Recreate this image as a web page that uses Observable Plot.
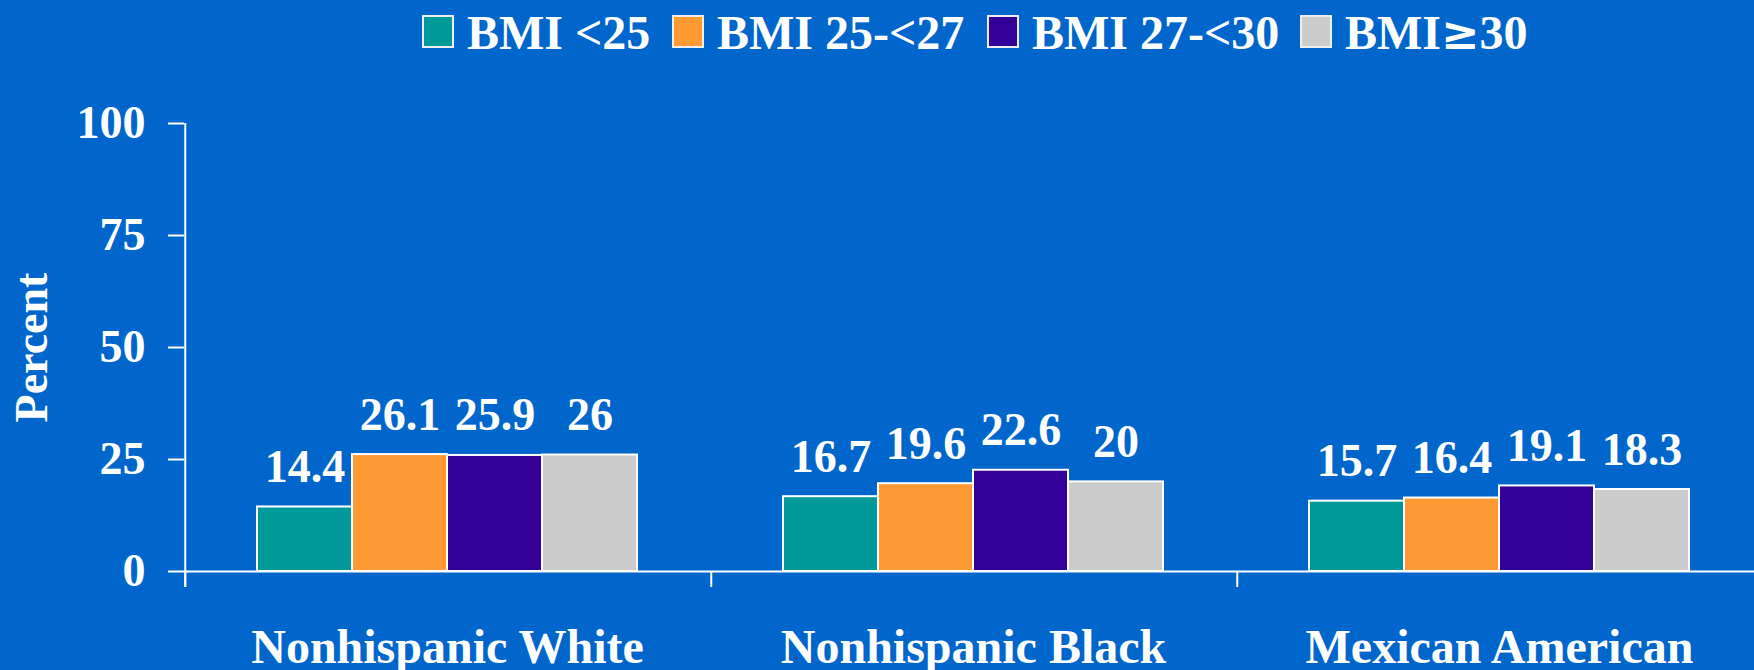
<!DOCTYPE html>
<html>
<head>
<meta charset="utf-8">
<script src="https://cdn.jsdelivr.net/npm/d3@7"></script>
<script src="https://cdn.jsdelivr.net/npm/@observablehq/plot@0.6"></script>
<style>
  html, body { margin: 0; padding: 0; background: #0066CC; overflow: hidden; }
  body { width: 1754px; height: 670px; font-family: "Liberation Serif", "Times New Roman", serif; font-weight: bold; color: white; }
  #legend { position: relative; height: 70px; }
  .item { position: absolute; top: 9px; display: flex; align-items: flex-start; height: 48px; font-size: 48px; line-height: 48px; white-space: nowrap; }
  .swatch { width: 32px; height: 33px; box-sizing: border-box; border: 2px solid #eeeeee; margin-top: 6px; margin-right: 13px; }
  .sym { font-family: "DejaVu Serif", serif; font-size: 46px; }
  #chart svg { display: block; }
</style>
</head>
<body>
<div id="legend"></div>
<div id="chart"></div>
<script>
// Race/ethnicity groups along the bottom
const categories = ["Nonhispanic White", "Nonhispanic Black", "Mexican American"];
// BMI classes, one bar each within a group
const bmiGroups = ["BMI <25", "BMI 25-<27", "BMI 27-<30", "BMI≥30"];
const bmiColors = ["#009999", "#FF9933", "#330099", "#CCCCCC"];
// Percent values per group, in BMI class order
const nonhispanicWhite = [14.4, 26.1, 25.9, 26];
const nonhispanicBlack = [16.7, 19.6, 22.6, 20];
const mexicanAmerican = [15.7, 16.4, 19.1, 18.3];
const yTicks = [0, 25, 50, 75, 100];

const series = [nonhispanicWhite, nonhispanicBlack, mexicanAmerican];
const rows = categories.flatMap((race, i) =>
  bmiGroups.map((bmi, j) => ({race, bmi, value: series[i][j]}))
);

// Legend row across the top
const legendLeft = [422, 672, 987, 1300];
const legend = document.getElementById("legend");
bmiGroups.forEach((g, i) => {
  const item = document.createElement("div");
  item.className = "item";
  item.style.left = legendLeft[i] + "px";
  const sw = document.createElement("span");
  sw.className = "swatch";
  sw.style.background = bmiColors[i];
  const label = document.createElement("span");
  // the ≥ sign is set in a wider symbol face
  g.split(/(≥)/).forEach(part => {
    if (part === "≥") {
      const s = document.createElement("span");
      s.className = "sym";
      s.textContent = part;
      label.append(s);
    } else if (part) {
      label.append(document.createTextNode(part));
    }
  });
  item.append(sw, label);
  legend.append(item);
});

const width = 1754, marginLeft = 184, marginRight = -8;
const paddingOuter = 0.754;
// Offset from a bar-band centre back to the left edge of its group
const facetWidth = (width - marginLeft - marginRight) / categories.length;
const step = facetWidth / (bmiGroups.length + 2 * paddingOuter);
const edgeOffset = step * (0.5 + paddingOuter);

const font = "'Liberation Serif', 'Times New Roman', serif";

const chart = Plot.plot({
  width,
  height: 600,
  marginLeft,
  marginRight,
  marginTop: 53,
  marginBottom: 99,
  style: {background: "#0066CC", color: "white", fontFamily: font, fontWeight: "bold", overflow: "visible"},
  fx: {domain: categories, padding: 0},
  x: {domain: bmiGroups, paddingInner: 0, paddingOuter, axis: null},
  y: {domain: [0, 100]},
  color: {domain: bmiGroups, range: bmiColors},
  marks: [
    Plot.axisY({ticks: yTicks, tickSize: 16, tickPadding: 23, strokeWidth: 2, fontSize: 46,
      label: "Percent", labelArrow: "none", labelAnchor: "center", labelOffset: 170}),
    Plot.axisFx({anchor: "bottom", tickSize: 0, tickPadding: 57, fontSize: 48, label: null}),
    Plot.barY(rows, {fx: "race", x: "bmi", y: "value", fill: "bmi", stroke: "white", strokeWidth: 2}),
    Plot.ruleY([0], {stroke: "white", strokeWidth: 2}),
    // vertical axis line, reaching just below the baseline
    Plot.ruleX([{race: categories[0]}], {fx: "race", x: () => bmiGroups[0], y1: 100, y2: 0,
      insetBottom: -16, dx: -edgeOffset, stroke: "white", strokeWidth: 2}),
    // group separators below the baseline
    Plot.ruleX([bmiGroups[0]], {x: d => d, y1: 0, y2: 0, insetBottom: -16, dx: -edgeOffset,
      stroke: "white", strokeWidth: 2}),
    Plot.text(rows, {fx: "race", x: "bmi", y: "value", text: d => String(d.value),
      lineAnchor: "bottom", dy: -25, fontSize: 46, fontWeight: "bold", fill: "white"})
  ]
});
document.getElementById("chart").append(chart);
</script>
</body>
</html>
